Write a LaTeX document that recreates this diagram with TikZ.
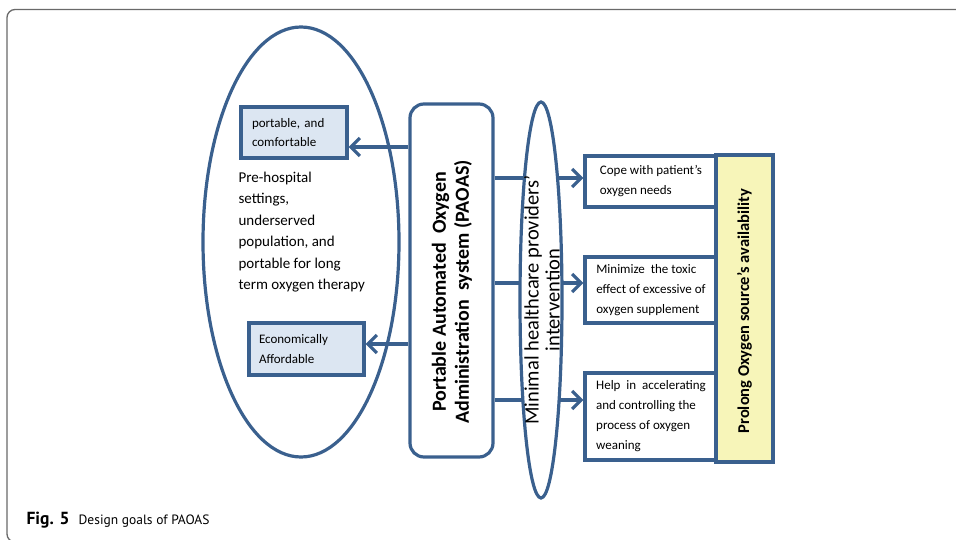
\documentclass[tikz,border=0pt]{standalone}
\usepackage{fontspec}
\setmainfont{Carlito}
\newfontfamily\capfont{PT Sans}
\usepackage{xcolor}
\usepackage{tikz}
\usetikzlibrary{shapes.geometric, arrows.meta, positioning, calc}

\definecolor{goalblue}{RGB}{58,96,142}
\definecolor{paleblue}{RGB}{220,230,242}
\definecolor{paleyellow}{RGB}{247,245,185}
\definecolor{framegray}{RGB}{105,105,105}

\tikzset{
  outline/.style={draw=goalblue, line width=3.2pt},
  sidebox/.style={outline, fill=paleblue, inner sep=0pt, align=left, font=\fontsize{13}{19.5}\selectfont},
  goalbox/.style={outline, fill=white, inner sep=0pt, align=left, font=\fontsize{13}{20}\selectfont},
  goalarrow/.style={draw=goalblue, line width=3.2pt, -{Straight Barb[length=9pt, width=18pt]}}
}

\begin{document}
\begin{tikzpicture}[x=1pt, y=-1pt]
    \useasboundingbox (0,0) rectangle (956,540);
    % Page frame
    \begin{scope}
      \clip (0,0) rectangle (956,540);
      \draw[framegray, line width=1.3pt, rounded corners=8pt] (975,9.5) -- (7,9.5) -- (7,542) -- (975,542);
    \end{scope}

    % Left ellipse
    \node[outline, ellipse, inner sep=0pt, minimum width=196pt, minimum height=430pt] (users) at (301,242) {};
    \node[anchor=west, align=left, font=\fontsize{15}{21.5}\selectfont] (settings) at (235,232)
      {Pre-hospital\\settings,\\underserved\\population, and\\portable for long\\term oxygen therapy};
    \node[sidebox, minimum width=106pt, minimum height=51pt, text width=84pt] (comfort) at (294,132.5)
      {portable, and\\comfortable};
    \node[sidebox, minimum width=115pt, minimum height=52pt, text width=95pt] (cost) at (306.5,349)
      {Economically\\Affordable};

    % Central system box
    \node[outline, rounded corners=14pt, inner sep=0pt, minimum width=83pt, minimum height=353pt] (paoas) at (451.5,280.5) {};
    \node[rotate=90, align=center, font=\bfseries\fontsize{20}{23}\selectfont] (paoastext) at (452,292)
      {Portable Automated~ Oxygen\\Administration~ system (PAOAS)};

    % Goals
    \node[goalbox, minimum width=132pt, minimum height=51pt] (cope) at (651,181.5)
      {Cope with patient's\\oxygen needs};
    \node[goalbox, minimum width=132pt, minimum height=66pt] (toxic) at (651,290)
      {Minimize~ the toxic\\effect of excessive of\\oxygen supplement};
    \node[goalbox, minimum width=132pt, minimum height=87pt] (wean) at (651,416.5)
      {Help~ in~ accelerating\\and controlling the\\process of oxygen\\weaning};
    \node[outline, fill=paleyellow, inner sep=0pt, minimum width=57pt, minimum height=307pt] (prolong) at (744.5,308.5) {};
    \node[rotate=90, font=\bfseries\fontsize{16.5}{20}\selectfont] (prolongtext) at (744.5,311)
      {Prolong Oxygen source's availability};

    % Arrows
    \draw[goalarrow] (paoas.west |- 0,147) -- (comfort.east |- 0,147);
    \draw[goalarrow] (paoas.west |- 0,344) -- (cost.east |- 0,344);
    \draw[goalarrow] (paoas.east |- 0,178) -- (cope.west |- 0,178);
    \draw[goalarrow] (paoas.east |- 0,283) -- (toxic.west |- 0,283);
    \draw[goalarrow] (paoas.east |- 0,400) -- (wean.west |- 0,400);

    % Intervention ellipse (over the arrows)
    \node[outline, fill=white, ellipse, inner sep=0pt, minimum width=42pt, minimum height=396pt] (minimal) at (541,300) {};
    \node[rotate=90, align=center, font=\fontsize{20.5}{21}\selectfont] (minimaltext) at (542,300)
      {Minimal healthcare providers'\\intervention};

    % Caption
    \node[anchor=base west, font=\capfont\fontsize{13.5}{17}\selectfont] (caption) at (23,524)
      {{\fontsize{17.5}{17}\selectfont\bfseries Fig. 5}\hspace{9pt}Design goals of PAOAS};
\end{tikzpicture}
\end{document}
